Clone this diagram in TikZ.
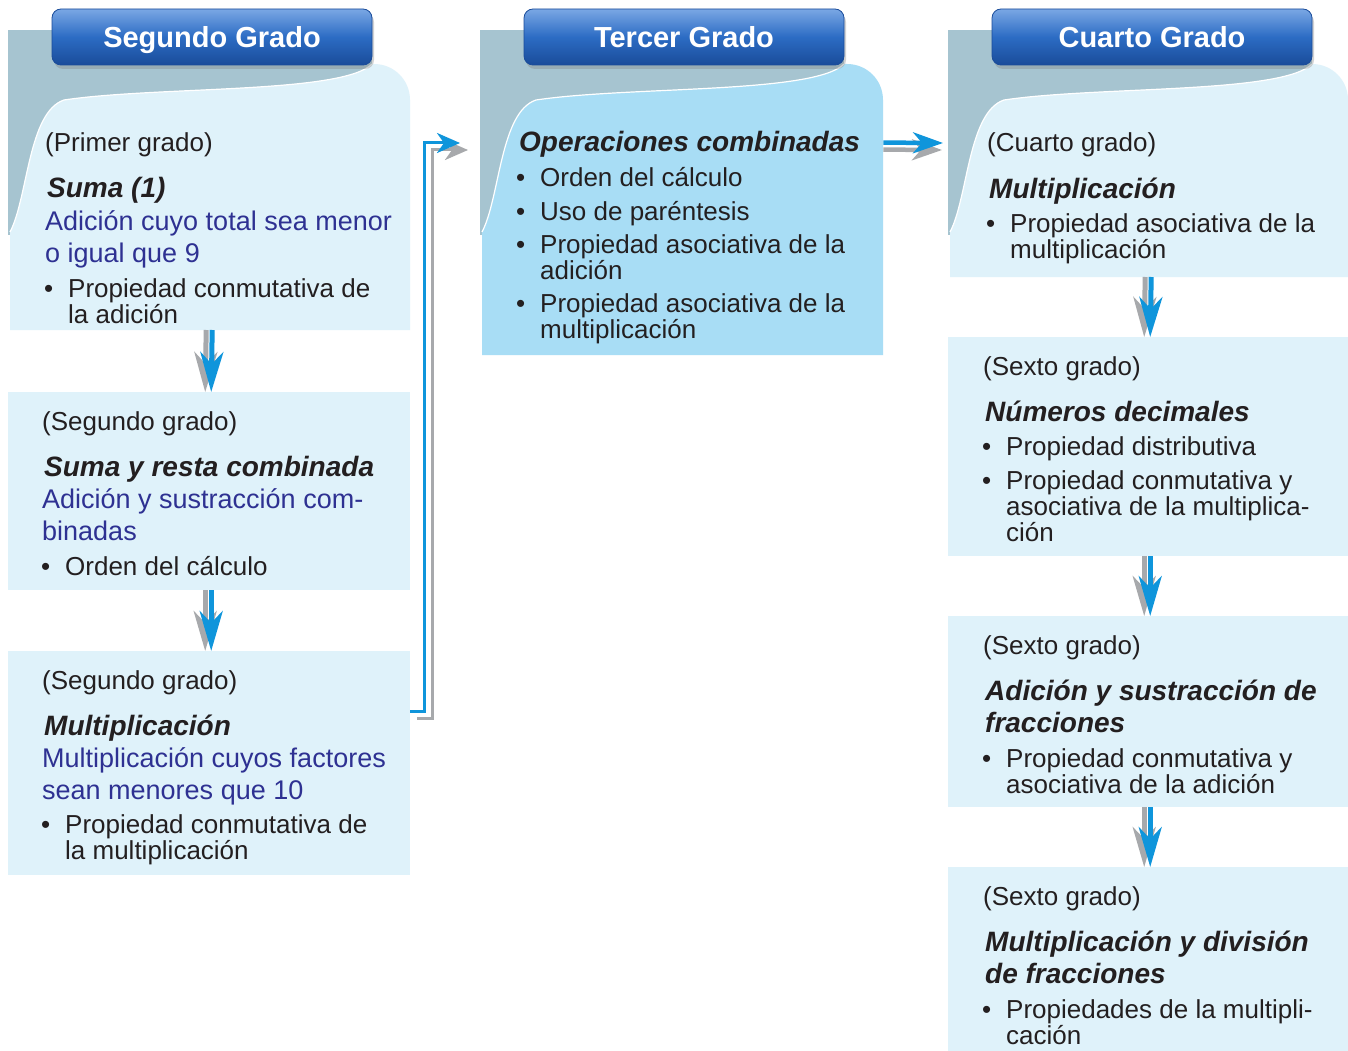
\documentclass[tikz,border=0pt]{standalone}
\usepackage{fontspec}
\setmainfont{Liberation Sans}
\usetikzlibrary{arrows.meta,positioning,calc,shadows}

\definecolor{cardbg}{HTML}{DFF2FA}
\definecolor{cardhi}{HTML}{A8DDF5}
\definecolor{curlbg}{HTML}{A6C4D0}
\definecolor{tabtop}{HTML}{7AA7E4}
\definecolor{tabmid}{HTML}{2C6CC4}
\definecolor{tabbot}{HTML}{1A4C9A}
\definecolor{flowblue}{HTML}{0F95DB}
\definecolor{flowgray}{HTML}{A7A9AC}
\definecolor{goalblue}{HTML}{2E3192}
\definecolor{ink}{HTML}{231F20}

\newcommand\txtfont{\fontsize{26}{26}\selectfont}
\newcommand\topicfont{\bfseries\itshape\fontsize{28}{32}\selectfont}
\newcommand\goalfont{\fontsize{27}{32}\selectfont}
\newcommand\bul{\makebox[24pt][l]{\textbullet}}
\newcommand\bulind{\hspace*{24pt}}

\tikzset{
  box/.style={rectangle, fill=cardbg, inner sep=0pt},
  gradetab/.style={rectangle, rounded corners=9pt, draw=tabbot, line width=0.8pt,
    top color=tabtop, bottom color=tabbot, middle color=tabmid,
    minimum width=320pt, minimum height=56pt, text=white,
    text height=22pt, text depth=0pt,
    font=\bfseries\fontsize{29}{29}\selectfont,
    drop shadow={shadow xshift=2pt, shadow yshift=-4pt, opacity=0.35}},
  grd/.style={anchor=base west, inner sep=0pt, text=ink, font=\txtfont},
  topic/.style={grd, align=left, font=\topicfont},
  goal/.style={grd, align=left, text=goalblue, font=\goalfont},
  itm/.style={grd, align=left},
  downblue/.style={draw=flowblue, line width=5pt,
    -{Stealth[length=40pt,width=23pt,inset=12pt]}},
  downgray/.style={downblue, draw=flowgray},
  sideblue/.style={draw=flowblue, line width=4.5pt,
    -{Stealth[length=30pt,width=21pt,inset=9pt]}},
  sidegray/.style={sideblue, draw=flowgray},
  elbowblue/.style={draw=flowblue, line width=3pt, miter limit=4,
    -{Stealth[length=23pt,width=20pt,inset=7pt]}},
  elbowgray/.style={elbowblue, draw=flowgray}
}

% card with curled corner and grade tab
\newcommand\gradecard[6]{%
  \fill[curlbg] (#2,30) rectangle (#2+364,235);
  \fill[#5] (#2+2,#4) -- (#2+2,232)
    .. controls (#2+20,198) and (#2+20,112) .. (#2+56,100)
    .. controls (#2+150,86) and (#2+334,94) .. (#2+364,64)
    -- (#3-36,64) .. controls (#3-16,64) and (#3,80) .. (#3,100)
    -- (#3,#4) -- cycle;
  \draw[white, line width=1.2pt] (#2+2,232)
    .. controls (#2+20,198) and (#2+20,112) .. (#2+56,100)
    .. controls (#2+150,86) and (#2+334,94) .. (#2+364,64);
  \node[inner sep=0pt, minimum width={#3-#2-2}, minimum height={#4-64},
    anchor=south west] (#1) at (#2+2,#4) {};
  \node[gradetab] (#1tab) at (#2+204,37) {#6};
}

\begin{document}
\begin{tikzpicture}[x=1pt, y=-1pt]
  \useasboundingbox[fill=white] (0,0) rectangle (1348,1051);

  % Segundo Grado (multi-line texts sit on their last line)
  \gradecard{sg1}{8}{410}{330}{cardbg}{Segundo Grado}
  \node[box, minimum width=402pt, minimum height=198pt, anchor=north west] (sg2) at (8,392) {};
  \node[box, minimum width=402pt, minimum height=224pt, anchor=north west] (sg3) at (8,651) {};

  \node[grd] (sg1a) at (45,152) {(Primer grado)};
  \node[topic] (sg1b) at (47,197) {Suma (1)};
  \node[goal] (sg1c) at (45,262) {Adición cuyo total sea menor\\o igual que 9};
  \node[itm] (sg1d) at (44,323) {\bul Propiedad conmutativa de\\\bulind la adición};

  \node[grd] (sg2a) at (42,430) {(Segundo grado)};
  \node[topic] (sg2b) at (44,476) {Suma y resta combinada};
  \node[goal] (sg2c) at (42,540) {Adición y sustracción com-\\binadas};
  \node[itm] (sg2d) at (41,575) {\bul Orden del cálculo};

  \node[grd] (sg3a) at (42,689) {(Segundo grado)};
  \node[topic] (sg3b) at (44,735) {Multiplicación};
  \node[goal] (sg3c) at (42,799) {Multiplicación cuyos factores\\sean menores que 10};
  \node[itm] (sg3d) at (41,859) {\bul Propiedad conmutativa de\\\bulind la multiplicación};

  % Tercer Grado
  \gradecard{tg1}{480}{883}{355}{cardhi}{Tercer Grado}
  \node[topic] (tg1a) at (519,152) {Operaciones combinadas};
  \node[itm] (tg1b) at (516,186) {\bul Orden del cálculo};
  \node[itm] (tg1c) at (516,220) {\bul Uso de paréntesis};
  \node[itm] (tg1d) at (516,279) {\bul Propiedad asociativa de la\\\bulind adición};
  \node[itm] (tg1e) at (516,338) {\bul Propiedad asociativa de la\\\bulind multiplicación};

  % Cuarto Grado
  \gradecard{cg1}{948}{1348}{277}{cardbg}{Cuarto Grado}
  \node[box, minimum width=400pt, minimum height=219pt, anchor=north west] (cg2) at (948,337) {};
  \node[box, minimum width=400pt, minimum height=191pt, anchor=north west] (cg3) at (948,616) {};
  \node[box, minimum width=400pt, minimum height=184pt, anchor=north west] (cg4) at (948,867) {};

  \node[grd] (cg1a) at (987,152) {(Cuarto grado)};
  \node[topic] (cg1b) at (989,198) {Multiplicación};
  \node[itm] (cg1c) at (986,258) {\bul Propiedad asociativa de la\\\bulind multiplicación};

  \node[grd] (cg2a) at (983,375) {(Sexto grado)};
  \node[topic] (cg2b) at (985,421) {Números decimales};
  \node[itm] (cg2c) at (982,455) {\bul Propiedad distributiva};
  \node[itm] (cg2d) at (982,541) {\bul Propiedad conmutativa y\\\bulind asociativa de la multiplica-\\\bulind ción};

  \node[grd] (cg3a) at (983,654) {(Sexto grado)};
  \node[topic] (cg3b) at (985,732) {Adición y sustracción de\\fracciones};
  \node[itm] (cg3c) at (982,793) {\bul Propiedad conmutativa y\\\bulind asociativa de la adición};

  \node[grd] (cg4a) at (983,905) {(Sexto grado)};
  \node[topic] (cg4b) at (985,983) {Multiplicación y división\\de fracciones};
  \node[itm] (cg4c) at (982,1044) {\bul Propiedades de la multipli-\\\bulind cación};

  % arrows down
  \foreach \a/\b in {sg1/sg2, sg2/sg3, cg1/cg2, cg2/cg3, cg3/cg4}{
    \draw[downgray] ([xshift=-4pt]\a.south) -- ([xshift=-4pt]\b.north);
    \draw[downblue] ([xshift=2pt]\a.south) -- ([xshift=2pt]\b.north);
  }

  % Tercer -> Cuarto
  \coordinate (cgin) at (943,143);
  \draw[sidegray] ($(tg1.north east)+(0,86)$) -- ($(cgin)+(-1,7)$);
  \draw[sideblue] ($(tg1.north east)+(0,79)$) -- (cgin);

  % Segundo -> Tercer
  \coordinate (tgin) at (460,143);
  \draw[elbowgray] ($(sg3.north east)+(7,67)$) -- ++(15,0) |- ($(tgin)+(8,7)$);
  \draw[elbowblue] ($(sg3.north east)+(0,60)$) -- ++(14,0) |- (tgin);
\end{tikzpicture}
\end{document}
